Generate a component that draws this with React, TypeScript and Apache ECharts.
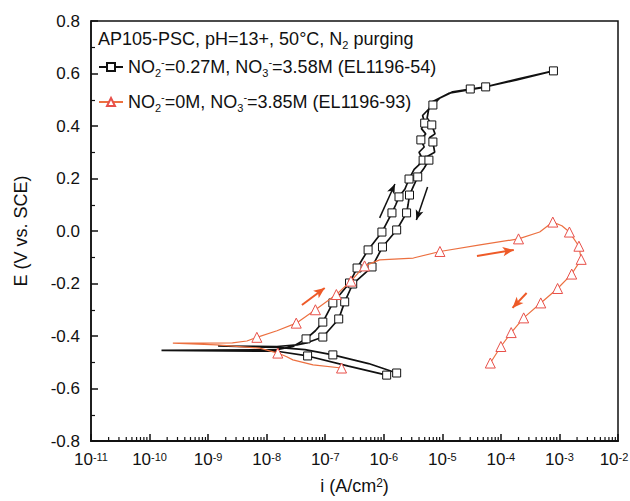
import React, { useEffect, useRef } from "react";
import * as echarts from "echarts";

// ---------- data ----------
// EL1196-54 (NO2- = 0.27 M, NO3- = 3.58 M): full cyclic scan, forward then reverse
const blackI = [
  1.12e-6, 2.5e-7, 5.0e-8, 1.5e-8, 1.6e-10, 1.5e-8, 2.8e-8, 4.7e-8, 6.8e-8, 9.1e-8,
  1.35e-7, 2.6e-7, 3.5e-7, 5.4e-7, 9.3e-7, 1.38e-6, 1.6e-6, 1.82e-6, 2.3e-6, 2.7e-6,
  3.3e-6, 3.9e-6, 4.7e-6, 4.0e-6, 4.9e-6, 4.3e-6, 5.2e-6, 4.4e-6, 5.0e-6, 4.6e-6,
  5.6e-6, 6.9e-6, 9.1e-6, 1.5e-5, 3.0e-5, 5.5e-5, 2.0e-4, 7.9e-4,
  1.8e-4, 4.5e-5, 1.3e-5, 6.5e-6, 5.8e-6, 5.5e-6, 6.6e-6, 7.5e-6, 6.0e-6, 6.9e-6,
  7.4e-6, 5.6e-6, 5.9e-6, 4.9e-6, 3.8e-6, 3.2e-6, 2.75e-6, 2.6e-6, 2.45e-6, 1.66e-6,
  9.5e-7, 6.3e-7, 2.95e-7, 2.15e-7, 1.7e-7, 9.1e-8, 5.0e-8, 3.3e-8, 1.5e-8, 1.48e-9,
  1.5e-8, 4.5e-8, 1.35e-7, 5.5e-7, 1.66e-6,
];
const blackE = [
  -0.549, -0.515, -0.476, -0.458, -0.455, -0.452, -0.44, -0.411, -0.38, -0.347,
  -0.274, -0.198, -0.141, -0.072, -0.004, 0.069, 0.1, 0.13, 0.16, 0.198,
  0.235, 0.25, 0.27, 0.3, 0.32, 0.347, 0.37, 0.39, 0.411, 0.44,
  0.46, 0.48, 0.507, 0.53, 0.541, 0.549, 0.58, 0.61,
  0.575, 0.545, 0.525, 0.49, 0.46, 0.43, 0.404, 0.37, 0.355, 0.339,
  0.3, 0.285, 0.27, 0.24, 0.206, 0.17, 0.137, 0.1, 0.069, 0.004,
  -0.061, -0.137, -0.202, -0.27, -0.335, -0.404, -0.425, -0.434, -0.44, -0.438,
  -0.443, -0.452, -0.472, -0.505, -0.541,
];
// 1 = a square marker sits on this point
const blackMark = [
  1, 0, 1, 0, 0, 0, 0, 1, 0, 1,
  1, 1, 1, 1, 1, 1, 0, 1, 0, 1,
  0, 0, 1, 0, 0, 1, 0, 0, 1, 0,
  0, 1, 0, 0, 1, 1, 0, 1,
  0, 0, 0, 0, 0, 0, 1, 0, 0, 1,
  0, 0, 1, 0, 1, 0, 1, 0, 1, 1,
  1, 1, 1, 1, 1, 1, 0, 0, 0, 0,
  0, 0, 1, 0, 1,
];

// EL1196-93 (NO2- = 0 M, NO3- = 3.85 M)
const orangeI = [
  1.9e-7, 6.2e-8, 2.8e-8, 2.2e-8, 1.55e-8, 7.6e-9, 1.4e-9, 2.5e-10, 7.2e-10, 2.6e-9,
  4.6e-9, 6.8e-9, 1.5e-8, 3.2e-8, 6.8e-8, 1.55e-7, 2.75e-7, 4.7e-7, 8.5e-7, 3.2e-6,
  9.1e-6, 4.4e-5, 2.0e-4, 4.6e-4, 7.7e-4, 1.1e-3, 1.48e-3, 2.15e-3, 2.35e-3, 1.62e-3,
  9.3e-4, 4.8e-4, 2.45e-4, 1.5e-4, 1.0e-4, 6.6e-5,
];
const orangeE = [
  -0.522, -0.51, -0.491, -0.479, -0.465, -0.446, -0.434, -0.427, -0.427, -0.426,
  -0.419, -0.405, -0.38, -0.351, -0.3, -0.242, -0.191, -0.133, -0.11, -0.103,
  -0.078, -0.053, -0.03, -0.004, 0.034, 0.02, -0.004, -0.058, -0.108, -0.164,
  -0.219, -0.274, -0.331, -0.387, -0.44, -0.503,
];
// 1 = a triangle marker sits on this point
const orangeMark = [
  1, 0, 0, 0, 1, 0, 0, 0, 0, 0,
  0, 1, 0, 1, 1, 1, 1, 1, 0, 0,
  1, 0, 1, 0, 1, 0, 1, 1, 1, 1,
  1, 1, 1, 1, 1, 1,
];

// scan-direction arrows: [i start, E start, i end, E end]
const blackArrows = [
  [8.5e-7, 0.05, 1.55e-6, 0.179],
  [5.6e-6, 0.168, 3.6e-6, 0.042],
];
const orangeArrows = [
  [4.0e-8, -0.282, 9.8e-8, -0.217],
  [3.9e-5, -0.095, 1.66e-4, -0.072],
  [2.75e-4, -0.236, 1.58e-4, -0.293],
];

const xMin = 1e-11;
const xMax = 1e-2;
const yTicks = [-0.8, -0.6, -0.4, -0.2, 0.0, 0.2, 0.4, 0.6, 0.8];

const seriesNames = [
  "NO2=0.27M, NO3=3.58M (EL1196-54)",
  "NO2=0M, NO3=3.85M (EL1196-93)",
];
const legendRich: Record<string, string> = {
  [seriesNames[0]]: "{t|NO}{s|2}{p|-}{t|=0.27M, NO}{s|3}{p|-}{t|=3.58M (EL1196-54)}",
  [seriesNames[1]]: "{t|NO}{s|2}{p|-}{t|=0M, NO}{s|3}{p|-}{t|=3.85M (EL1196-93)}",
};
const titleText = "AP105-PSC, pH=13+, 50°C, N";

const FONT = "'Liberation Sans', Arial, Helvetica, sans-serif";
const BLACK = "#111111";
const ORANGE = "#ec7040";
const ORANGE_MARK = "#e8504a";
const ARROW_ORANGE = "#ee5a28";

function buildSeriesData(xs: number[], ys: number[], marks: number[]) {
  return xs.map((x, k) =>
    marks[k] ? { value: [x, ys[k]] } : { value: [x, ys[k]], symbol: "none" }
  );
}

function arrowLines(list: number[][]) {
  return list.map((a) => [{ coord: [a[0], a[1]] }, { coord: [a[2], a[3]] }]);
}

// minor tick positions on the log axis (2..9 x 10^n)
function logMinorValues() {
  const out: number[] = [];
  for (let e = -11; e < -2; e++) {
    for (let m = 2; m <= 9; m++) out.push(m * Math.pow(10, e));
  }
  return out;
}

export default function App() {
  const ref = useRef<HTMLDivElement>(null);

  useEffect(() => {
    if (!ref.current) return;
    const chart = echarts.init(ref.current, undefined, { renderer: "svg" });

    const supStyle = { fontSize: 11, verticalAlign: "top", lineHeight: 10, color: BLACK, fontFamily: FONT };

    const option: any = {
      animation: false,
      backgroundColor: "#ffffff",
      textStyle: { fontFamily: FONT },
      grid: {
        left: 91,
        right: 12,
        top: 21,
        bottom: 60,
        containLabel: false,
        outerBoundsMode: "none",
        show: true,
        borderColor: BLACK,
        borderWidth: 1.5,
        backgroundColor: "transparent",
      },
      xAxis: {
        type: "log",
        logBase: 10,
        min: xMin,
        max: xMax,
        interval: 1,
        name: "i (A/cm{sup|2})",
        nameLocation: "middle",
        nameGap: 36,
        nameTextStyle: {
          fontSize: 18,
          color: BLACK,
          fontFamily: FONT,
          rich: {
            sup: { fontSize: 12, verticalAlign: "top", lineHeight: 12, color: BLACK, fontFamily: FONT },
          },
        },
        axisLine: { show: true, onZero: false, lineStyle: { color: BLACK, width: 2 } },
        axisTick: { show: true, inside: true, length: 7, lineStyle: { color: BLACK, width: 1.5 } },
        splitLine: { show: false },
        axisLabel: {
          margin: 10,
          color: BLACK,
          fontSize: 17,
          fontFamily: FONT,
          formatter: (v: number) => {
            const e = Math.round(Math.log10(v));
            return v >= xMax ? "{b|10}{sl|" + e + "}" : "10{sup|" + e + "}";
          },
          rich: {
            sup: supStyle,
            b: { fontSize: 17, color: BLACK, fontFamily: FONT },
            sl: { ...supStyle, padding: [0, 8, 0, 0] },
          },
        },
      },
      yAxis: {
        type: "value",
        min: yTicks[0],
        max: yTicks[yTicks.length - 1],
        interval: 0.2,
        name: "E (V vs. SCE)",
        nameLocation: "middle",
        nameRotate: 90,
        nameGap: 61,
        nameTextStyle: { fontSize: 18, color: BLACK, fontFamily: FONT },
        axisLine: { show: true, onZero: false, lineStyle: { color: BLACK, width: 1.5 } },
        axisTick: { show: true, inside: true, length: 7, lineStyle: { color: BLACK, width: 1.5 } },
        minorTick: { show: true, splitNumber: 2, length: 4, lineStyle: { color: BLACK, width: 1.2 } },
        splitLine: { show: false },
        axisLabel: {
          margin: 11,
          color: BLACK,
          fontSize: 17,
          fontFamily: FONT,
          formatter: (v: number) => v.toFixed(1),
        },
      },
      legend: {
        data: seriesNames,
        orient: "vertical",
        left: 98,
        top: 56,
        padding: 0,
        itemWidth: 24,
        itemHeight: 10,
        itemGap: 13,
        selectedMode: false,
        formatter: (name: string) => legendRich[name] || name,
        textStyle: {
          color: BLACK,
          fontSize: 18,
          fontFamily: FONT,
          rich: {
            t: { fontSize: 18, lineHeight: 22, color: BLACK, fontFamily: FONT },
            s: { fontSize: 11, lineHeight: 11, verticalAlign: "bottom", color: BLACK, fontFamily: FONT },
            p: { fontSize: 11, lineHeight: 11, verticalAlign: "top", color: BLACK, fontFamily: FONT },
          },
        },
      },
      graphic: [
        {
          type: "text",
          left: 98,
          top: 30,
          silent: true,
          style: {
            text: titleText + "{s|2}{t| purging}",
            fill: BLACK,
            fontSize: 18,
            fontFamily: FONT,
            rich: {
              t: { fontSize: 18, lineHeight: 22, fill: BLACK, fontFamily: FONT },
              s: { fontSize: 11, lineHeight: 11, verticalAlign: "bottom", fill: BLACK, fontFamily: FONT },
            },
          },
        },
      ],
      series: [
        {
          name: seriesNames[0],
          type: "line",
          data: buildSeriesData(blackI, blackE, blackMark),
          symbol: "rect",
          symbolSize: 8,
          showSymbol: true,
          showAllSymbol: true,
          itemStyle: { color: "#ffffff", borderColor: BLACK, borderWidth: 1 },
          lineStyle: { color: BLACK, width: 1.7 },
          z: 3,
        },
        {
          name: seriesNames[1],
          type: "line",
          data: buildSeriesData(orangeI, orangeE, orangeMark),
          symbol: "triangle",
          symbolSize: 10,
          showSymbol: true,
          showAllSymbol: true,
          itemStyle: { color: "#ffffff", borderColor: ORANGE_MARK, borderWidth: 1 },
          lineStyle: { color: ORANGE, width: 1.2 },
          z: 4,
        },
        {
          name: "arrows-black",
          type: "line",
          data: [],
          silent: true,
          markLine: {
            silent: true,
            symbol: ["none", "arrow"],
            symbolSize: [6, 10],
            label: { show: false },
            lineStyle: { color: BLACK, width: 1.5, type: "solid" },
            data: arrowLines(blackArrows),
          },
        },
        {
          name: "arrows-orange",
          type: "line",
          data: [],
          silent: true,
          markLine: {
            silent: true,
            symbol: ["none", "arrow"],
            symbolSize: [7, 11],
            label: { show: false },
            lineStyle: { color: ARROW_ORANGE, width: 2, type: "solid" },
            data: arrowLines(orangeArrows),
          },
        },
        {
          name: "log-minor-ticks",
          type: "custom",
          silent: true,
          clip: false,
          z: 10,
          encode: { x: 0, y: 1 },
          data: logMinorValues().map((v) => [v, yTicks[0]]),
          renderItem: (params: any, api: any) => {
            const p = api.coord([api.value(0), api.value(1)]);
            return {
              type: "line",
              shape: { x1: p[0], y1: p[1], x2: p[0], y2: p[1] - 4 },
              style: { stroke: BLACK, lineWidth: 1.2 },
            };
          },
        },
      ],
    };

    chart.setOption(option);
    return () => chart.dispose();
  }, []);

  return (
    <div
      ref={ref}
      style={{ position: "absolute", left: 0, top: 0, width: 630, height: 501 }}
    />
  );
}
